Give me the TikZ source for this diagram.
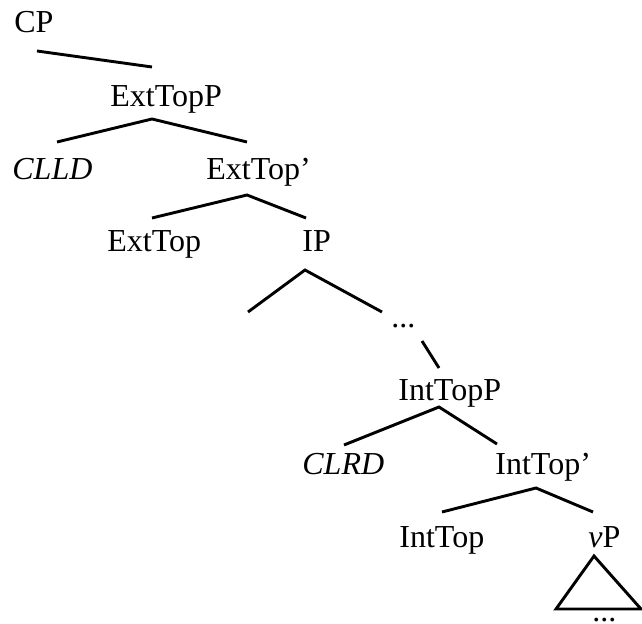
\documentclass[tikz,border=0pt]{standalone}
\usepackage{fontspec}
\setmainfont{Liberation Serif}

\begin{document}
\begin{tikzpicture}[x=0.5pt, y=-0.5pt,
  every node/.style={font=\fontsize{16}{19}\selectfont, inner sep=0pt, anchor=base west},
  term/.style={font=\fontsize{16}{19}\selectfont\itshape},
  branch/.style={line width=1.45pt}
]
\useasboundingbox (0,0) rectangle (642,624);

% Labels
\node (cp) at (14,33) {CP};
\node (extp) at (110,107) {ExtTopP};
\node[term] (clld) at (12,180) {CLLD};
\node (extbar) at (206,180) {ExtTop’};
\node (ext) at (107,252) {ExtTop};
\node (ip) at (302,252) {IP};
\node (dotsA) at (391,328) {...};
\node (intp) at (398,401) {IntTopP};
\node[term] (clrd) at (302,475) {CLRD};
\node (intbar) at (495,475) {IntTop’};
\node (int) at (399,547) {IntTop};
\node (vp) at (588,547) {\textit{v}P};
\node (dotsB) at (592,621) {...};

% Branch ends
\coordinate (cpA) at (37,51);     \coordinate (cpB) at (152,67);
\coordinate (extpTop) at (152,119);
\coordinate (extpL) at (57,142);  \coordinate (extpR) at (247,142);
\coordinate (extbarTop) at (247,195);
\coordinate (extbarL) at (152,218); \coordinate (extbarR) at (306,218);
\coordinate (ipTop) at (305,270);
\coordinate (ipL) at (248,312);   \coordinate (ipR) at (382,312);
\coordinate (dotsTop) at (422,341); \coordinate (dotsBot) at (439,368);
\coordinate (intpTop) at (439,407);
\coordinate (intpL) at (344,445); \coordinate (intpR) at (497,444);
\coordinate (intbarTop) at (536,488);
\coordinate (intbarL) at (442,512); \coordinate (intbarR) at (593,512);
\coordinate (vpTop) at (594,556);
\coordinate (vpL) at (556,609);   \coordinate (vpR) at (641,609);

% Branches
\draw[branch] (cpA) -- (cpB);
\draw[branch] (extpL) -- (extpTop) -- (extpR);
\draw[branch] (extbarL) -- (extbarTop) -- (extbarR);
\draw[branch] (ipL) -- (ipTop) -- (ipR);
\draw[branch] (dotsTop) -- (dotsBot);
\draw[branch] (intpL) -- (intpTop) -- (intpR);
\draw[branch] (intbarL) -- (intbarTop) -- (intbarR);
\draw[branch] (vpL) -- (vpTop) -- (vpR) -- cycle;

\end{tikzpicture}
\end{document}
